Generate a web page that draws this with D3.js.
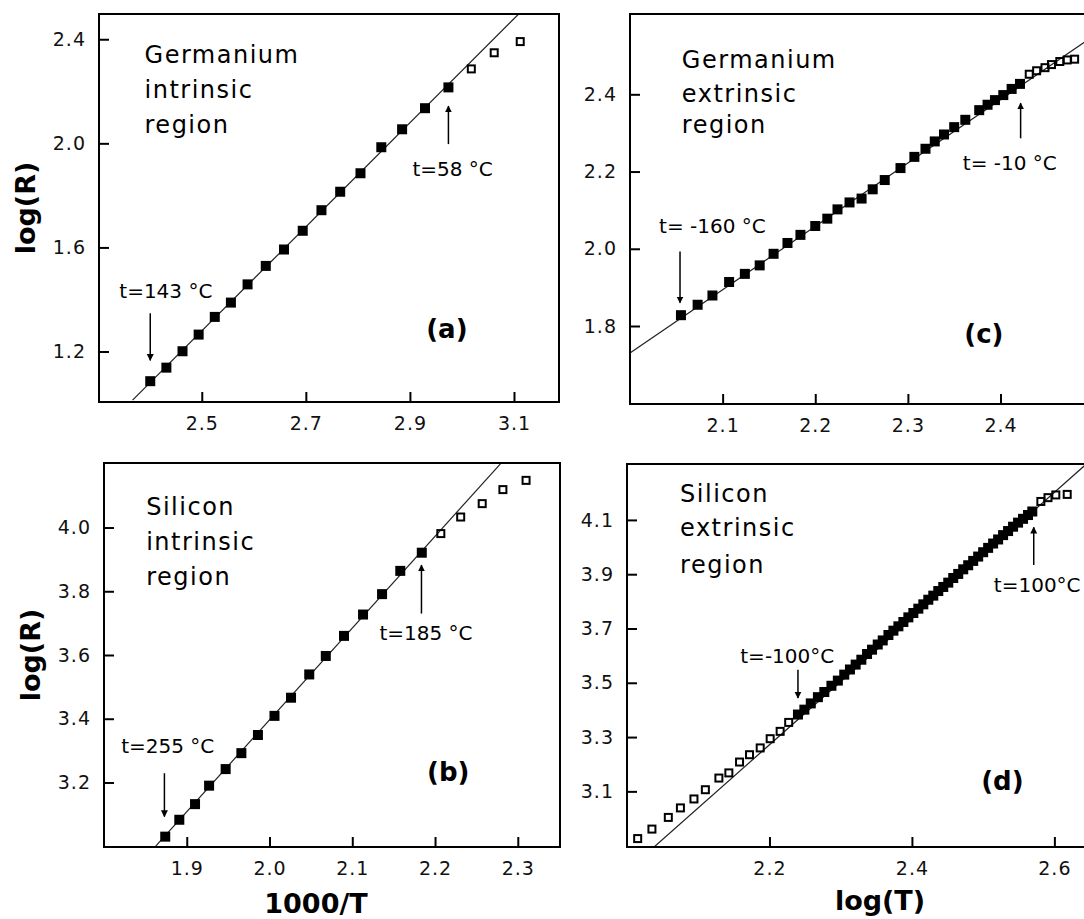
<!DOCTYPE html>
<html>
<head>
<meta charset="utf-8">
<script src="https://cdn.jsdelivr.net/npm/d3@7"></script>
<style>
body { margin: 0; background: #fff; }
svg { display: block; font-family: "DejaVu Sans", sans-serif; }
</style>
</head>
<body>
<div id="chart"></div>
<script>
// (a) germanium, intrinsic region : log(R) vs 1000/T
var geIntX = [2.401, 2.432, 2.463, 2.494, 2.525, 2.556, 2.588, 2.623, 2.658, 2.694, 2.730, 2.766, 2.805, 2.845, 2.885, 2.929, 2.974];
var geIntY = [1.086, 1.138, 1.201, 1.265, 1.333, 1.388, 1.458, 1.529, 1.592, 1.664, 1.743, 1.814, 1.885, 1.985, 2.054, 2.135, 2.215];
var geIntOpenX = [3.018, 3.062, 3.112];
var geIntOpenY = [2.286, 2.348, 2.391];
var geIntFit = [[2.367, 1.013], [3.109, 2.497]];
var geIntXTicks = [2.5, 2.7, 2.9, 3.1];
var geIntYTicks = [1.2, 1.6, 2.0, 2.4];

// (b) silicon, intrinsic region : log(R) vs 1000/T
var siIntX = [1.874, 1.891, 1.910, 1.927, 1.947, 1.966, 1.986, 2.006, 2.026, 2.048, 2.068, 2.090, 2.113, 2.136, 2.158, 2.184];
var siIntY = [3.030, 3.083, 3.132, 3.190, 3.242, 3.292, 3.349, 3.409, 3.466, 3.539, 3.597, 3.660, 3.727, 3.791, 3.864, 3.921];
var siIntOpenX = [2.207, 2.231, 2.257, 2.282, 2.310];
var siIntOpenY = [3.981, 4.033, 4.075, 4.119, 4.148];
var siIntFit = [[1.8625, 3.0], [2.279, 4.2]];
var siIntXTicks = [1.9, 2.0, 2.1, 2.2, 2.3];
var siIntYTicks = [3.2, 3.4, 3.6, 3.8, 4.0];

// (c) germanium, extrinsic region : log(R) vs log(T)
var geExtX = [2.055, 2.073, 2.089, 2.107, 2.124, 2.140, 2.155, 2.170, 2.184, 2.200, 2.213, 2.224, 2.237, 2.250, 2.262, 2.275, 2.292, 2.307, 2.319, 2.329, 2.339, 2.350, 2.362, 2.377, 2.386, 2.394, 2.403, 2.412, 2.421];
var geExtY = [1.828, 1.855, 1.879, 1.914, 1.935, 1.957, 1.987, 2.015, 2.036, 2.059, 2.078, 2.102, 2.120, 2.130, 2.154, 2.178, 2.209, 2.238, 2.259, 2.278, 2.296, 2.315, 2.334, 2.359, 2.373, 2.385, 2.398, 2.414, 2.427];
var geExtOpenX = [2.431, 2.439, 2.448, 2.455, 2.464, 2.472, 2.480];
var geExtOpenY = [2.452, 2.461, 2.469, 2.477, 2.485, 2.489, 2.491];
var geExtFit = [[2.0, 1.730], [2.52, 2.583]];
var geExtXTicks = [2.1, 2.2, 2.3, 2.4];
var geExtYTicks = [1.8, 2.0, 2.2, 2.4];

// (d) silicon, extrinsic region : log(R) vs log(T)
var siExtX = [2.240, 2.249, 2.258, 2.268, 2.277, 2.287, 2.296, 2.305, 2.313, 2.321, 2.329, 2.337, 2.344, 2.352, 2.359,
  2.367, 2.374, 2.381, 2.388, 2.395, 2.402, 2.409, 2.416, 2.423, 2.430, 2.437, 2.444, 2.451, 2.458, 2.465,
  2.472, 2.479, 2.486, 2.493, 2.500, 2.507, 2.514, 2.521, 2.528, 2.535, 2.542, 2.549, 2.556, 2.563, 2.569];
var siExtY = [3.383, 3.401, 3.424, 3.447, 3.466, 3.489, 3.508, 3.530, 3.549, 3.567, 3.585, 3.606, 3.622, 3.641, 3.656,
  3.676, 3.692, 3.708, 3.724, 3.741, 3.757, 3.773, 3.789, 3.806, 3.821, 3.838, 3.853, 3.869, 3.886, 3.901,
  3.918, 3.933, 3.949, 3.965, 3.981, 3.997, 4.013, 4.028, 4.044, 4.059, 4.075, 4.090, 4.104, 4.118, 4.131];
var siExtOpenX = [2.015, 2.035, 2.058, 2.075, 2.094, 2.110, 2.129, 2.143, 2.158, 2.172, 2.187, 2.201, 2.215, 2.227, 2.581, 2.591, 2.602, 2.618];
var siExtOpenY = [2.926, 2.961, 3.004, 3.039, 3.072, 3.106, 3.149, 3.168, 3.208, 3.235, 3.260, 3.294, 3.321, 3.354, 4.168, 4.182, 4.192, 4.194];
var siExtFit = [[2.038, 2.895], [2.645, 4.306]];
var siExtXTicks = [2.2, 2.4, 2.6];
var siExtYTicks = [3.1, 3.3, 3.5, 3.7, 3.9, 4.1];

var W = 1084, H = 919;

var svg = d3.select('#chart').append('svg')
  .attr('width', W)
  .attr('height', H);

svg.append('defs').append('marker')
  .attr('id', 'head')
  .attr('viewBox', '0 0 10 10')
  .attr('refX', 9).attr('refY', 5)
  .attr('markerWidth', 7).attr('markerHeight', 9)
  .attr('markerUnits', 'userSpaceOnUse')
  .attr('orient', 'auto')
  .append('path')
  .attr('d', 'M0,0 L10,5 L0,10 z')
  .attr('fill', '#000');

var panels = [
  {
    id: 'a', box: [99, 14, 559, 402],
    xDomain: [2.3025, 3.1865], yDomain: [1.006, 2.497],
    xs: geIntX, ys: geIntY, ox: geIntOpenX, oy: geIntOpenY, fit: geIntFit,
    xTicks: geIntXTicks, yTicks: geIntYTicks,
    title: ['Germanium', 'intrinsic', 'region'], titleAt: [2.39, 2.309, 2.175, 2.040],
    arrows: [
      {label: 't=143 \u00b0C', lx: 2.431, ly: 1.405, x: 2.401, y0: 1.347, y1: 1.166},
      {label: 't=58 \u00b0C', lx: 2.982, ly: 1.874, x: 2.974, y0: 1.997, y1: 2.143}
    ],
    tag: '(a)', tagAt: [2.971, 1.251],
    yTitle: {text: 'log(R)', x: 35, y: 208}
  },
  {
    id: 'b', box: [104, 463, 560, 847],
    xDomain: [1.8, 2.351], yDomain: [2.9975, 4.2025],
    xs: siIntX, ys: siIntY, ox: siIntOpenX, oy: siIntOpenY, fit: siIntFit,
    xTicks: siIntXTicks, yTicks: siIntYTicks,
    title: ['Silicon', 'intrinsic', 'region'], titleAt: [1.851, 4.039, 3.929, 3.819],
    arrows: [
      {label: 't=255 \u00b0C', lx: 1.877, ly: 3.292, x: 1.873, y0: 3.229, y1: 3.093},
      {label: 't=185 \u00b0C', lx: 2.189, ly: 3.647, x: 2.1836, y0: 3.730, y1: 3.882}
    ],
    tag: '(b)', tagAt: [2.216, 3.206],
    yTitle: {text: 'log(R)', x: 40, y: 655},
    xTitle: {text: '1000/T', x: 316, y: 913}
  },
  {
    id: 'c', box: [630, 14, 1090, 404],
    xDomain: [2.0, 2.4966], yDomain: [1.598, 2.608],
    xs: geExtX, ys: geExtY, ox: geExtOpenX, oy: geExtOpenY, fit: geExtFit,
    xTicks: geExtXTicks, yTicks: geExtYTicks,
    title: ['Germanium', 'extrinsic', 'region'], titleAt: [2.056, 2.467, 2.381, 2.299],
    arrows: [
      {label: 't= -160 \u00b0C', lx: 2.089, ly: 2.041, x: 2.054, y0: 1.993, y1: 1.860},
      {label: 't= -10 \u00b0C', lx: 2.410, ly: 2.204, x: 2.4217, y0: 2.286, y1: 2.377}
    ],
    tag: '(c)', tagAt: [2.382, 1.756]
  },
  {
    id: 'd', box: [627, 464, 1090, 847],
    xDomain: [2.0, 2.650], yDomain: [2.895, 4.306],
    xs: siExtX, ys: siExtY, ox: siExtOpenX, oy: siExtOpenY, fit: siExtFit,
    xTicks: siExtXTicks, yTicks: siExtYTicks,
    title: ['Silicon', 'extrinsic', 'region'], titleAt: [2.0745, 4.1675, 4.039, 3.906],
    arrows: [
      {label: 't=-100\u00b0C', lx: 2.225, ly: 3.572, x: 2.240, y0: 3.548, y1: 3.444},
      {label: 't=100\u00b0C', lx: 2.515, ly: 3.836, x: 2.571, y0: 3.934, y1: 4.073, anchor: 'start'}
    ],
    tag: '(d)', tagAt: [2.527, 3.106],
    xTitle: {text: 'log(T)', x: 880, y: 910}
  }
];

panels.forEach(function(p) {
  var w = p.box[2] - p.box[0];
  var h = p.box[3] - p.box[1];
  var x = d3.scaleLinear().domain(p.xDomain).range([0, w]);
  var y = d3.scaleLinear().domain(p.yDomain).range([h, 0]);

  var g = svg.append('g')
    .attr('transform', 'translate(' + p.box[0] + ',' + p.box[1] + ')');

  g.append('clipPath').attr('id', 'clip-' + p.id)
    .append('rect').attr('width', w).attr('height', h);

  var inner = g.append('g').attr('clip-path', 'url(#clip-' + p.id + ')');

  // fitted line
  inner.append('path')
    .attr('d', d3.line().x(function(d) { return x(d[0]); }).y(function(d) { return y(d[1]); })(p.fit))
    .attr('fill', 'none')
    .attr('stroke', '#222')
    .attr('stroke-width', 1.2);

  // open squares (not used in the fit)
  inner.selectAll('rect.open')
    .data(d3.zip(p.ox, p.oy))
    .enter().append('rect')
    .attr('class', 'open')
    .attr('x', function(d) { return x(d[0]) - 3.5; })
    .attr('y', function(d) { return y(d[1]) - 3.5; })
    .attr('width', 7).attr('height', 7)
    .attr('fill', 'none')
    .attr('stroke', '#000')
    .attr('stroke-width', 2);

  // filled squares
  inner.selectAll('rect.filled')
    .data(d3.zip(p.xs, p.ys))
    .enter().append('rect')
    .attr('class', 'filled')
    .attr('x', function(d) { return x(d[0]) - 5; })
    .attr('y', function(d) { return y(d[1]) - 5; })
    .attr('width', 10).attr('height', 10)
    .attr('fill', '#000');

  // axes, ticks pointing inward
  var xAxis = d3.axisBottom(x).tickValues(p.xTicks).tickFormat(d3.format('.1f'))
    .tickSize(-10).tickSizeOuter(0).tickPadding(15);
  var yAxis = d3.axisLeft(y).tickValues(p.yTicks).tickFormat(d3.format('.1f'))
    .tickSize(-10).tickSizeOuter(0).tickPadding(13);

  var gx = g.append('g').attr('transform', 'translate(0,' + h + ')').call(xAxis);
  var gy = g.append('g').call(yAxis);
  [gx, gy].forEach(function(a) {
    a.select('.domain').remove();
    a.selectAll('line').attr('stroke', '#000').attr('stroke-width', 2);
    a.selectAll('text').attr('font-size', 19).attr('fill', '#111')
      .attr('letter-spacing', 1)
      .attr('font-family', '"DejaVu Sans", sans-serif');
  });

  // frame
  g.append('rect')
    .attr('width', w).attr('height', h)
    .attr('fill', 'none')
    .attr('stroke', '#000')
    .attr('stroke-width', 2);

  // region label
  p.title.forEach(function(t, i) {
    g.append('text')
      .attr('x', x(p.titleAt[0]))
      .attr('y', y(p.titleAt[i + 1]))
      .attr('font-size', 24)
      .attr('letter-spacing', 1.5)
      .text(t);
  });

  // temperature arrows
  p.arrows.forEach(function(a) {
    g.append('line')
      .attr('x1', x(a.x)).attr('x2', x(a.x))
      .attr('y1', y(a.y0)).attr('y2', y(a.y1))
      .attr('stroke', '#000')
      .attr('stroke-width', 1.5)
      .attr('marker-end', 'url(#head)');
    g.append('text')
      .attr('x', x(a.lx))
      .attr('y', y(a.ly))
      .attr('text-anchor', a.anchor || 'middle')
      .attr('font-size', 20)
      .text(a.label);
  });

  g.append('text')
    .attr('x', x(p.tagAt[0]))
    .attr('y', y(p.tagAt[1]))
    .attr('text-anchor', 'middle')
    .attr('font-size', 26)
    .attr('font-weight', 'bold')
    .text(p.tag);

  if (p.yTitle) {
    svg.append('text')
      .attr('transform', 'translate(' + p.yTitle.x + ',' + p.yTitle.y + ') rotate(-90)')
      .attr('text-anchor', 'middle')
      .attr('font-size', 27)
      .attr('font-weight', 'bold')
      .text(p.yTitle.text);
  }
  if (p.xTitle) {
    svg.append('text')
      .attr('x', p.xTitle.x)
      .attr('y', p.xTitle.y)
      .attr('text-anchor', 'middle')
      .attr('font-size', 27)
      .attr('font-weight', 'bold')
      .text(p.xTitle.text);
  }
});
</script>
</body>
</html>
